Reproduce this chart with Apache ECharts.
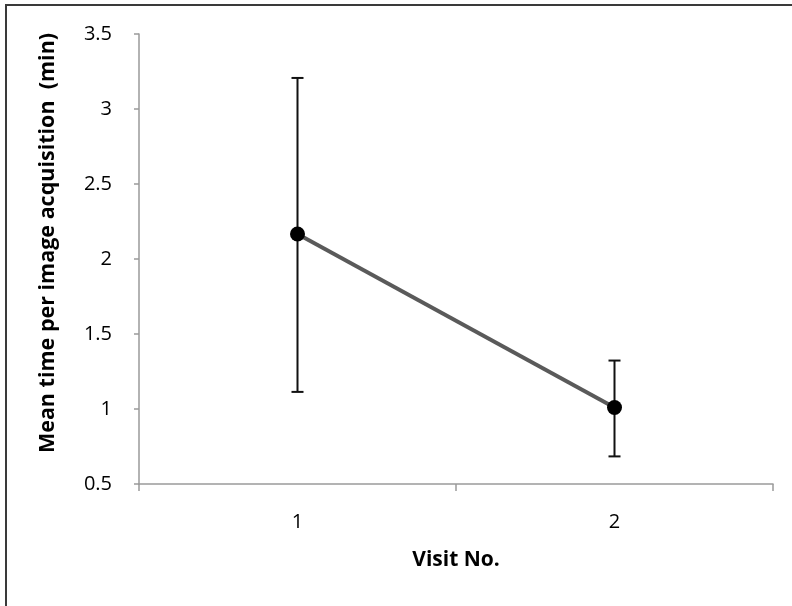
<!DOCTYPE html>
<html><head><meta charset="utf-8">
<script src="https://cdn.jsdelivr.net/npm/echarts@6/dist/echarts.min.js"></script>
<style>html,body{margin:0;padding:0;background:#fff}#c{width:792px;height:606px}</style>
</head><body><div id="c"></div>
<script>
const categories = ['1', '2'];
const means = [2.167, 1.01];
const errLow = [1.114, 0.684];
const errHigh = [3.207, 1.323];
const yTicks = [0.5, 1, 1.5, 2, 2.5, 3, 3.5];

const chart = echarts.init(document.getElementById('c'));
const font = '"Open Sans", sans-serif';
chart.setOption({
  animation: false,
  graphic: [{
    type: 'rect', shape: {x: 6, y: 5, width: 800, height: 620},
    style: {fill: 'none', stroke: '#3a3a3a', lineWidth: 2}, z: -1
  }],
  grid: {left: 139, right: 19, top: 34, bottom: 122},
  xAxis: {
    type: 'category', data: categories, boundaryGap: true,
    name: 'Visit No.', nameLocation: 'middle', nameGap: 66,
    nameTextStyle: {fontFamily: font, fontWeight: 'bold', fontSize: 21, color: '#000'},
    axisLine: {lineStyle: {color: '#9a9a9a', width: 1.5}},
    axisTick: {show: true, length: 7, inside: false, alignWithLabel: false, lineStyle: {color: '#9a9a9a', width: 1.5}},
    axisLabel: {fontFamily: font, fontSize: 20, color: '#000', margin: 28}
  },
  yAxis: {
    type: 'value', min: 0.5, max: 3.5, interval: 0.5,
    name: 'Mean time per image acquisition  (min)', nameLocation: 'middle', nameGap: 80,
    nameTextStyle: {fontFamily: font, fontWeight: 'bold', fontSize: 21.5, color: '#000', padding: [0, 0, 0, 32]},
    axisLine: {show: true, lineStyle: {color: '#9a9a9a', width: 1.5}},
    axisTick: {show: true, length: 5, lineStyle: {color: '#9a9a9a', width: 1.5}},
    splitLine: {show: false},
    axisLabel: {fontFamily: font, fontSize: 20, color: '#000', margin: 27,
      formatter: v => yTicks.includes(v) ? String(v) : ''}
  },
  series: [{
    type: 'line', data: means, symbol: 'circle', symbolSize: 15,
    lineStyle: {color: '#5a5a5a', width: 4},
    itemStyle: {color: '#000'}, z: 3
  }, {
    type: 'custom',
    data: categories.map((c, i) => [i, errLow[i], errHigh[i]]),
    renderItem: (params, api) => {
      const lo = api.coord([api.value(0), api.value(1)]);
      const hi = api.coord([api.value(0), api.value(2)]);
      const hw = 6;
      const st = {stroke: '#111', lineWidth: 2};
      return {type: 'group', children: [
        {type: 'line', shape: {x1: hi[0], y1: hi[1], x2: lo[0], y2: lo[1]}, style: st},
        {type: 'line', shape: {x1: hi[0]-hw, y1: hi[1], x2: hi[0]+hw, y2: hi[1]}, style: st},
        {type: 'line', shape: {x1: lo[0]-hw, y1: lo[1], x2: lo[0]+hw, y2: lo[1]}, style: st}
      ]};
    }, z: 2
  }]
});
</script></body></html>
